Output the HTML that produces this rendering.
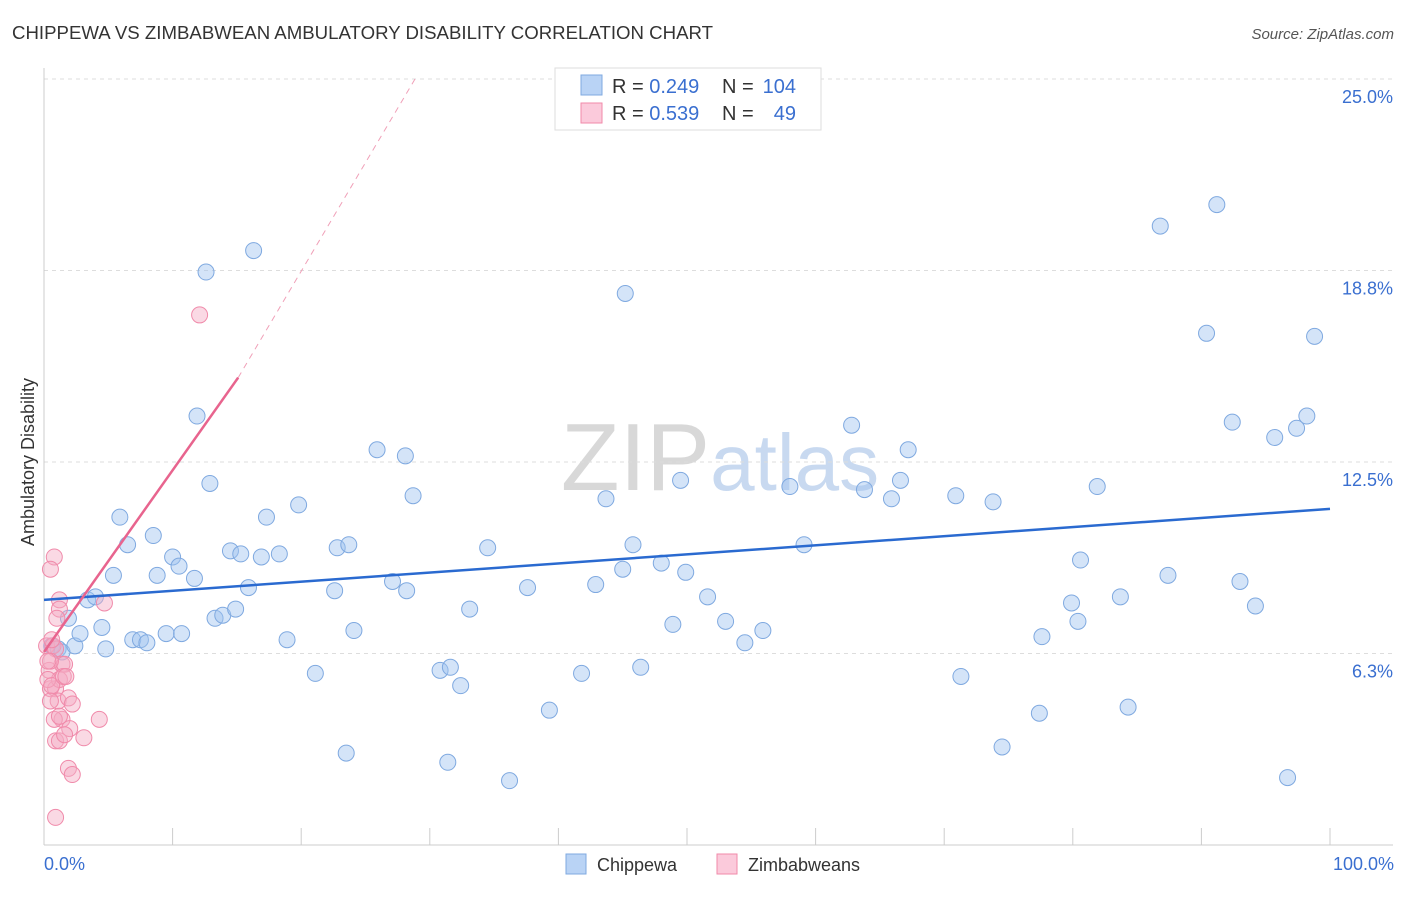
<!DOCTYPE html>
<html><head><meta charset="utf-8"><style>
body{margin:0;background:#fff;font-family:"Liberation Sans",sans-serif;}
svg text{font-family:"Liberation Sans",sans-serif;}
</style></head><body>
<svg id="chart" width="1406" height="892" viewBox="0 0 1406 892">
<text x="12" y="39" font-size="18" fill="#333" textLength="701" lengthAdjust="spacingAndGlyphs">CHIPPEWA VS ZIMBABWEAN AMBULATORY DISABILITY CORRELATION CHART</text>
<text x="1394" y="39" font-size="15" fill="#555" text-anchor="end" font-style="italic">Source: ZipAtlas.com</text>
<text x="720" y="490" font-size="96" text-anchor="middle" fill="#ddd" font-family="Liberation Serif"><tspan fill="#d8d8d8">ZIP</tspan><tspan fill="#c8d9f0" font-family="Liberation Sans" font-size="80">atlas</tspan></text>
<g id="grid"></g>
<line x1="44" y1="68" x2="44" y2="845" stroke="#ccc"/>
<line x1="44" y1="845" x2="1393" y2="845" stroke="#ccc"/>
<text transform="translate(34,462) rotate(-90)" font-size="18" fill="#333" text-anchor="middle">Ambulatory Disability</text>
<text x="44" y="870" font-size="18" fill="#3a6fd0">0.0%</text>
<text x="1394" y="870" font-size="18" fill="#3a6fd0" text-anchor="end">100.0%</text>
<g id="marks"></g>
<g>
<rect x="555" y="68" width="266" height="62" fill="#fff" stroke="#ddd"/>
<rect x="581" y="75" width="21" height="20" fill="#b9d3f5" stroke="#7fa9e0"/>
<rect x="581" y="103" width="21" height="20" fill="#fbcadb" stroke="#f08aaa"/>
<text x="612" y="93" font-size="20" fill="#333">R = <tspan fill="#3a6fd0">0.249</tspan></text>
<text x="722" y="93" font-size="20" fill="#333">N =</text>
<text x="796" y="93" font-size="20" fill="#3a6fd0" text-anchor="end">104</text>
<text x="612" y="120" font-size="20" fill="#333">R = <tspan fill="#3a6fd0">0.539</tspan></text>
<text x="722" y="120" font-size="20" fill="#333">N =</text>
<text x="796" y="120" font-size="20" fill="#3a6fd0" text-anchor="end">49</text>
</g>
<g>
<rect x="566" y="854" width="20" height="20" fill="#b9d3f5" stroke="#7fa9e0"/>
<text x="597" y="871" font-size="18" fill="#333">Chippewa</text>
<rect x="717" y="854" width="20" height="20" fill="#fbcadb" stroke="#f08aaa"/>
<text x="748" y="871" font-size="18" fill="#333">Zimbabweans</text>
</g>
</svg>
<script>
const yTicks=[6.25,12.5,18.75,25];
const yTickLabels=["6.3%","12.5%","18.8%","25.0%"];
const xTicks=[0,10,20,30,40,50,60,70,80,90,100];
const chipX=[0.6,1.1,1.4,1.9,2.4,2.8,3.4,4.0,4.5,4.8,5.4,5.9,6.5,6.9,7.5,8.0,8.5,8.8,9.5,10.0,10.5,10.7,11.7,11.9,12.6,12.9,13.3,13.9,14.9,14.5,15.3,15.9,16.3,16.9,17.3,18.3,18.9,19.8,21.1,22.6,22.8,23.5,23.7,24.1,25.9,27.1,28.1,28.2,28.7,30.8,31.4,31.6,32.4,33.1,34.5,36.2,37.6,39.3,41.8,42.9,43.7,45.0,45.2,45.8,46.4,48.0,48.9,49.5,49.9,51.6,53.0,54.5,55.9,58.0,59.1,62.8,63.8,65.9,66.6,67.2,70.9,71.3,73.8,74.5,77.4,77.6,79.9,80.4,80.6,81.9,83.7,84.3,86.8,87.4,90.4,91.2,92.4,93.0,94.2,95.7,96.7,97.4,98.2,98.8];
const chipY=[6.5,6.4,6.3,7.4,6.5,6.9,8.0,8.1,7.1,6.4,8.8,10.7,9.8,6.7,6.7,6.6,10.1,8.8,6.9,9.4,9.1,6.9,8.7,14.0,18.7,11.8,7.4,7.5,7.7,9.6,9.5,8.4,19.4,9.4,10.7,9.5,6.7,11.1,5.6,8.3,9.7,3.0,9.8,7.0,12.9,8.6,12.7,8.3,11.4,5.7,2.7,5.8,5.2,7.7,9.7,2.1,8.4,4.4,5.6,8.5,11.3,9.0,18.0,9.8,5.8,9.2,7.2,11.9,8.9,8.1,7.3,6.6,7.0,11.7,9.8,13.7,11.6,11.3,11.9,12.9,11.4,5.5,11.2,3.2,4.3,6.8,7.9,7.3,9.3,11.7,8.1,4.5,20.2,8.8,16.7,20.9,13.8,8.6,7.8,13.3,2.2,13.6,14.0,16.6];
const zimX=[0.2,0.4,0.5,0.7,0.8,0.5,0.9,1.2,1.2,1.0,1.4,1.6,0.9,1.2,0.3,0.6,1.1,1.4,0.9,1.2,1.9,2.2,2.0,1.6,3.1,4.3,4.7,1.9,2.2,0.9,12.1,0.5,0.6,0.3,1.5,1.7,0.5,0.8,1.2];
const zimY=[6.5,5.7,5.1,6.5,9.4,9.0,6.4,8.0,7.7,7.4,5.9,5.9,5.1,5.4,5.4,5.2,4.7,4.1,3.4,3.4,4.8,4.6,3.8,3.6,3.5,4.1,7.9,2.5,2.3,0.9,17.3,6.0,6.7,6.0,5.5,5.5,4.7,4.1,4.2];
const chipTrend=[8.0,10.97];
const zimTrend=[6.3,0.593];
const NS="http://www.w3.org/2000/svg";
const X=v=>44+v*12.86, Y=v=>845-v*30.64;
function mk(t,a,p){const e=document.createElementNS(NS,t);for(const k in a)e.setAttribute(k,a[k]);p.appendChild(e);return e;}
const grid=document.getElementById('grid'),marks=document.getElementById('marks');
yTicks.forEach((v,i)=>{
 const l=mk('line',{x1:44,x2:1393,y1:Y(v),y2:Y(v),stroke:'#ddd','stroke-dasharray':'4,4'},grid);
 
 
 const t=mk('text',{x:1393,y:Y(v)+24,'font-size':18,fill:'#3a6fd0','text-anchor':'end'},grid);
 t.textContent=yTickLabels[i];
 
 
});
xTicks.forEach(v=>{
 const l=mk('line',{x1:X(v),x2:X(v),y1:828,y2:845,stroke:'#ccc'},grid);
 
 
});
chipX.forEach((x,i)=>{
 const c=mk('circle',{cx:X(x),cy:Y(chipY[i]),r:8,fill:'rgba(160,196,240,0.45)',stroke:'#7fa9e0','stroke-width':1},marks);
 
 
});
zimX.forEach((x,i)=>{
 const c=mk('circle',{cx:X(x),cy:Y(zimY[i]),r:8,fill:'rgba(245,170,195,0.45)',stroke:'#f08aaa','stroke-width':1},marks);
 
 
});
const bl=mk('line',{x1:X(0),y1:Y(chipTrend[0]),x2:X(100),y2:Y(chipTrend[1]),stroke:'#2a6ad0','stroke-width':2.5},marks);


const zMid=zimTrend[0]+zimTrend[1]*15.1;
const pd=mk('line',{x1:X(15.1),y1:Y(zMid),x2:X(28.85),y2:Y(25),stroke:'#f0a0b8','stroke-width':1,'stroke-dasharray':'6,5'},marks);


const pl=mk('line',{x1:X(0),y1:Y(zimTrend[0]),x2:X(15.1),y2:Y(zMid),stroke:'#e8648e','stroke-width':2.5},marks);


</script>
</body></html>
